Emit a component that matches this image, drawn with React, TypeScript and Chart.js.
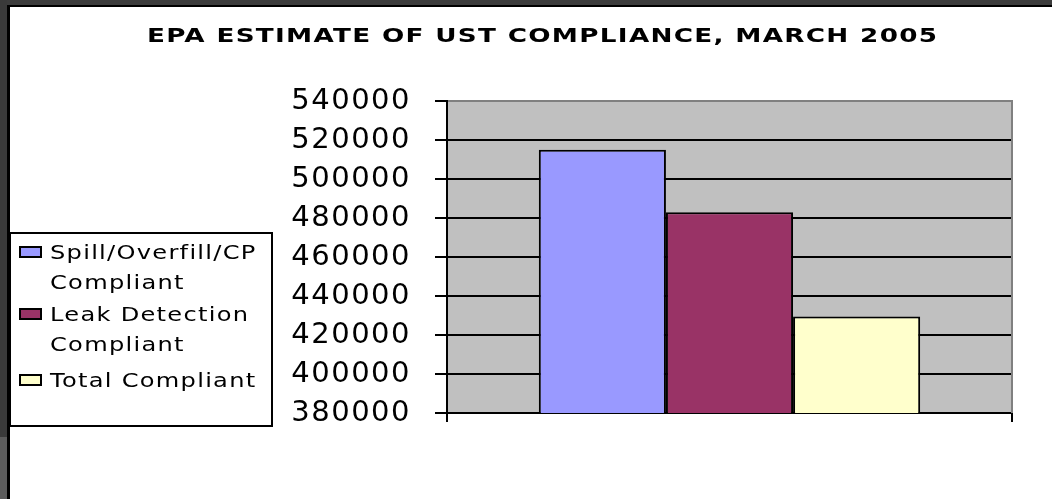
import React, { useEffect, useRef } from 'react';
import { Chart, registerables } from 'chart.js';

Chart.register(...registerables);

const TITLE = 'EPA ESTIMATE OF UST COMPLIANCE, MARCH 2005';
const categories = [''];
const seriesLabels = [
  ['Spill/Overfill/CP', 'Compliant'],
  ['Leak Detection', 'Compliant'],
  ['Total Compliant'],
];
const spillOverfillValues = [515000];
const leakDetectionValues = [483000];
const totalCompliantValues = [429500];
const seriesColors = ['#9999ff', '#993366', '#ffffcc'];
const Y_MIN = 380000;
const Y_MAX = 540000;
const Y_STEP = 20000;

const decorPlugin = {
  id: 'decor',
  beforeDraw(chart: any) {
    const { ctx, chartArea: a } = chart;
    ctx.save();
    ctx.fillStyle = '#c0c0c0';
    ctx.fillRect(a.left, a.top, a.right - a.left, a.bottom - a.top);
    ctx.restore();
    ctx.letterSpacing = '1.5px';
  },
  afterDraw(chart: any) {
    const { ctx, chartArea: a } = chart;
    ctx.letterSpacing = '0px';
    ctx.save();
    // right border of the plot area
    ctx.strokeStyle = '#808080';
    ctx.lineWidth = 2;
    ctx.beginPath();
    ctx.moveTo(a.right, a.top - 1);
    ctx.lineTo(a.right, a.bottom);
    ctx.stroke();

    // title, horizontally stretched
    ctx.font = 'bold 20px "DejaVu Sans"';
    ctx.letterSpacing = '1px';
    ctx.fillStyle = '#000';
    ctx.textAlign = 'left';
    ctx.textBaseline = 'alphabetic';
    const tw = ctx.measureText(TITLE).width - 1;
    const sx = 790 / tw;
    ctx.save();
    ctx.translate(147, 42);
    ctx.scale(sx, 1);
    ctx.fillText(TITLE, 0, 0);
    ctx.restore();

    // legend box
    ctx.letterSpacing = '0px';
    ctx.fillStyle = '#fff';
    ctx.fillRect(10, 233, 262, 193);
    ctx.strokeStyle = '#000';
    ctx.lineWidth = 2;
    ctx.strokeRect(10, 233, 262, 193);

    const baselines = [259, 321, 387];
    ctx.font = '19px "DejaVu Sans"';
    ctx.letterSpacing = '1px';
    ctx.textAlign = 'left';
    const lsx = 1.27;
    chart.data.datasets.forEach((ds: any, i: number) => {
      const b = baselines[i];
      ctx.fillStyle = ds.backgroundColor;
      ctx.fillRect(20, b - 12, 21, 10);
      ctx.strokeStyle = '#000';
      ctx.lineWidth = 2;
      ctx.strokeRect(20, b - 12, 21, 10);
      ctx.fillStyle = '#000';
      const lines = Array.isArray(ds.label) ? ds.label : [ds.label];
      lines.forEach((t: string, j: number) => {
        ctx.save();
        ctx.translate(50, b + j * 30);
        ctx.scale(lsx, 1);
        ctx.fillText(t, 0, 0);
        ctx.restore();
      });
    });
    ctx.restore();
  },
};

export default function App() {
  const ref = useRef<HTMLCanvasElement>(null);

  useEffect(() => {
    if (!ref.current) return;
    const chart = new Chart(ref.current, {
      type: 'bar',
      data: {
        labels: categories,
        datasets: [
          { label: seriesLabels[0] as any, data: spillOverfillValues, backgroundColor: seriesColors[0] },
          { label: seriesLabels[1] as any, data: leakDetectionValues, backgroundColor: seriesColors[1] },
          { label: seriesLabels[2] as any, data: totalCompliantValues, backgroundColor: seriesColors[2] },
        ].map((d) => ({
          ...d,
          borderColor: '#000',
          borderWidth: 2,
          borderSkipped: false,
          categoryPercentage: 0.675,
          barPercentage: 1,
        })),
      },
      options: {
        animation: false,
        responsive: false,
        devicePixelRatio: 1,
        layout: { padding: { left: 10, top: 101, right: 40, bottom: 76 } },
        plugins: {
          legend: { display: false },
          title: { display: false },
          tooltip: { enabled: false },
        },
        scales: {
          x: {
            type: 'category',
            offset: true,
            grid: {
              display: true,
              drawOnChartArea: false,
              drawTicks: true,
              tickLength: 9,
              color: '#000',
              tickColor: '#000',
              lineWidth: 2,
              offset: true,
            },
            border: { display: true, color: '#000', width: 2 },
            ticks: { display: false },
            afterFit(s: any) {
              s.height = 10;
            },
          },
          y: {
            min: Y_MIN,
            max: Y_MAX,
            ticks: {
              stepSize: Y_STEP,
              autoSkip: false,
              padding: 24,
              color: '#000',
              font: { family: 'DejaVu Sans', size: 29 },
              callback: (v: any) => String(v),
            },
            grid: {
              color: (c: any) => (c.tick && c.tick.value === Y_MAX ? '#808080' : '#000'),
              tickColor: '#000',
              lineWidth: 2,
              tickLength: 12,
              drawTicks: true,
            },
            border: { display: true, color: '#000', width: 2 },
            afterFit(s: any) {
              s.width = 437;
            },
          },
        },
      },
      plugins: [decorPlugin],
    } as any);
    return () => chart.destroy();
  }, []);

  return (
    <div style={{ position: 'fixed', left: 0, top: 0, width: 1052, height: 499, background: '#fff', overflow: 'hidden' }}>
      <div style={{ position: 'absolute', left: 0, top: 0, width: 1052, height: 5, background: '#3c3c3c' }} />
      <div style={{ position: 'absolute', left: 0, top: 5, width: 1052, height: 2, background: '#000' }} />
      <div style={{ position: 'absolute', left: 0, top: 0, width: 7, height: 437, background: '#3a3a3a' }} />
      <div style={{ position: 'absolute', left: 0, top: 437, width: 7, height: 62, background: '#5c5c5c' }} />
      <div style={{ position: 'absolute', left: 7, top: 5, width: 3, height: 494, background: '#000' }} />
      <canvas ref={ref} width={1052} height={499} style={{ position: 'absolute', left: 0, top: 0 }} />
    </div>
  );
}
